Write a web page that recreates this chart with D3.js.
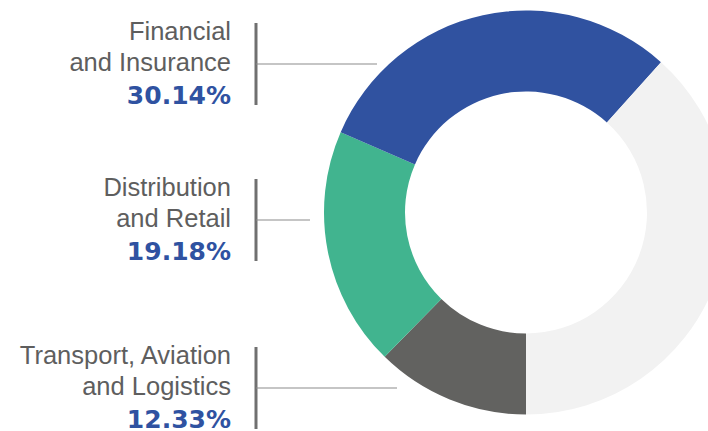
<!DOCTYPE html>
<meta charset="utf-8">
<style>
body { margin: 0; background: #fff; }
.name { font-family: "Liberation Sans", Arial, sans-serif; font-size: 25.5px; fill: #5e5e5e; text-anchor: end; }
.pct { font-family: "DejaVu Sans", sans-serif; font-weight: bold; font-size: 25px; fill: #2f52a1; text-anchor: end; }
</style>
<script src="https://d3js.org/d3.v7.min.js"></script>
<body>
<svg width="708" height="431"></svg>
</body>
<script>

// data
var sectors = ["Transport, Aviation and Logistics", "Distribution and Retail", "Financial and Insurance", "Other"];
var shares = [12.33, 19.18, 30.14, 38.35];
var colors = ["#626260", "#41b48f", "#3052a0", "#f2f2f2"];
var labelLines = [["Transport, Aviation", "and Logistics"], ["Distribution", "and Retail"], ["Financial", "and Insurance"], null];

var svg = d3.select("svg"),
    cx = 526, cy = 212.5,
    outerR = 202, innerR = 121;

var pie = d3.pie().sort(null).startAngle(Math.PI).endAngle(3 * Math.PI);
var arc = d3.arc().innerRadius(innerR).outerRadius(outerR);

var g = svg.append("g").attr("transform", "translate(" + cx + "," + cy + ")");

g.selectAll("path")
  .data(pie(shares))
  .enter().append("path")
    .attr("d", arc)
    .attr("fill", function(d, i) { return colors[i]; });

// label blocks: top of first text line, and where the leader ends
var labelTop = [347, 179, 23];
var leaderEnd = [397, 310, 377];
var textRight = 231, barX = 256;

labelLines.forEach(function(lines, i) {
  if (!lines) return;
  var top = labelTop[i];
  var lg = svg.append("g");

  lg.append("text").attr("class", "name")
    .attr("x", textRight).attr("y", top + 17)
    .text(lines[0]);
  lg.append("text").attr("class", "name")
    .attr("x", textRight).attr("y", top + 48)
    .text(lines[1]);
  lg.append("text").attr("class", "pct")
    .attr("x", textRight).attr("y", top + 81)
    .text(d3.format(".2f")(shares[i]) + "%");

  lg.append("line")
    .attr("x1", barX).attr("x2", barX)
    .attr("y1", top).attr("y2", top + 82)
    .attr("stroke", "#707070").attr("stroke-width", 3);

  lg.append("line")
    .attr("x1", barX).attr("x2", leaderEnd[i])
    .attr("y1", top + 41).attr("y2", top + 41)
    .attr("stroke", "#8c8c8c").attr("stroke-width", 1.2);
});

</script>
